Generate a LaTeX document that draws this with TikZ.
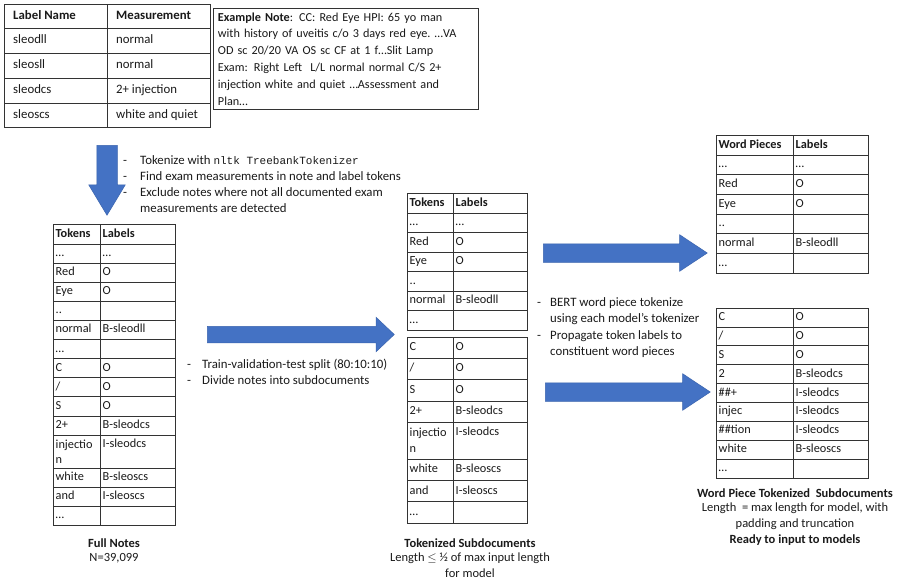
\documentclass[tikz,border=0pt]{standalone}
\usepackage{fontspec}
\setmainfont{Carlito}
\setmonofont{Liberation Mono}
\usetikzlibrary{shapes.arrows}
\definecolor{arrowblue}{HTML}{4472C4}
\definecolor{arrowedge}{HTML}{3A64AE}
\definecolor{rule}{HTML}{333333}
\definecolor{ink}{HTML}{1A1A1A}

\begin{document}
\begin{tikzpicture}[
  x=1pt,
  y=-1pt,
  grid/.style={draw=rule,line width=0.8pt},
  cell/.style={
    anchor=west,inner sep=0pt,text height=8.5pt,text depth=2.5pt,
    font=\fontsize{12.3}{14}\selectfont,text=ink
  },
  headcell/.style={cell,font=\fontsize{12.3}{14}\selectfont\bfseries},
  wrapcell/.style={
    anchor=west,inner sep=0pt,align=left,
    font=\fontsize{12.3}{15}\selectfont,text=ink
  },
  notebox/.style={
    draw=rule,line width=0.9pt,anchor=north west,align=left,
    text width=256pt,inner xsep=4.5pt,inner ysep=4pt,
    font=\fontsize{12.2}{16.8}\selectfont,text=ink
  },
  bullet/.style={
    anchor=west,inner sep=0pt,text height=8.5pt,text depth=2.5pt,
    font=\fontsize{12.8}{15}\selectfont,text=ink
  },
  caption/.style={inner sep=0pt,font=\fontsize{12.5}{14}\selectfont,text=ink},
  captionhead/.style={caption,font=\fontsize{12.5}{14}\selectfont\bfseries},
  blockarrow/.style={
    single arrow,anchor=tail,fill=arrowblue,draw=arrowedge,
    line width=0.5pt,inner sep=0pt,minimum width=0pt
  }
]
  \fill[white] (0,0) rectangle (899,581);
  \useasboundingbox (0,0) rectangle (899,581);

  % label name / measurement table
  \draw[grid] (4,4) rectangle (210,127);
  \draw[grid] (107,4) -- (107,127);
  \foreach \y in {28,53,78,103} \draw[grid] (4,\y) -- (210,\y);
  \node[headcell,font=\fontsize{12.8}{14}\selectfont\bfseries] (lm-name) at (13,16) {Label Name};
  \node[headcell,font=\fontsize{12.8}{14}\selectfont\bfseries] (lm-meas) at (116,16) {Measurement};
  \foreach \y/\tok/\lab [count=\i] in {40.5/sleodll/normal,65.5/sleosll/normal,
      90.5/sleodcs/2+ injection,115/sleoscs/white and quiet} {
    \node[cell,font=\fontsize{12.8}{14}\selectfont] (lm-tok-\i) at (13,\y) {\tok};
    \node[cell,font=\fontsize{12.8}{14}\selectfont] (lm-lab-\i) at (116,\y) {\lab};
  }

  % example note
  \node[notebox] (note) at (213,8) {\textbf{Example Note}: CC: Red Eye HPI: 65 yo man\\
    with history of uveitis c/o 3 days red eye.\ …VA\\
    OD sc 20/20 VA OS sc CF at 1 f…Slit Lamp\\
    Exam: Right Left\ \ L/L normal normal C/S 2+\\
    injection white and quiet …Assessment and\\
    Plan…};

  % step 1
  \node[blockarrow,rotate=-90,minimum height=70pt,inner ysep=10pt,
    single arrow head extend=8pt,single arrow tip angle=62] (arrow-down) at (107,145) {};
  \node[bullet] (tk-d1) at (123,161) {-};
  \node[bullet] (tk-l1) at (140,161) {Tokenize with \texttt{\fontsize{11}{13}\selectfont nltk TreebankTokenizer}};
  \node[bullet] (tk-d2) at (123,177) {-};
  \node[bullet] (tk-l2) at (140,177) {Find exam measurements in note and label tokens};
  \node[bullet] (tk-d3) at (123,193) {-};
  \node[bullet] (tk-l3) at (140,193) {Exclude notes where not all documented exam};
  \node[bullet] (tk-l4) at (140,209) {measurements are detected};

  % full notes table
  \draw[grid] (53,224) rectangle (175,525.3);
  \draw[grid] (100,224) -- (100,525.3);
  \foreach \y in {244,263.1,282.2,301.3,320.4,339.5,358.6,377.7,396.8,415.9,435,468,487.1,506.2}
    \draw[grid] (53,\y) -- (175,\y);
  \node[headcell] (fn-head-tok) at (55.5,234) {Tokens};
  \node[headcell] (fn-head-lab) at (102.5,234) {Labels};
  \foreach \y/\tok/\lab [count=\i] in {253.55/…/…,272.65/Red/O,291.75/Eye/O,310.85/../,
      329.95/normal/B-sleodll,349.05/…/,368.15/C/O,387.25/{/}/O,406.35/S/O,
      425.45/2+/B-sleodcs,477.55/white/B-sleoscs,496.65/and/I-sleoscs,515.75/…/} {
    \node[cell] (fn-tok-\i) at (55.5,\y) {\tok};
    \node[cell] (fn-lab-\i) at (102.5,\y) {\lab};
  }
  \node[wrapcell] (fn-tok-inj) at (55.5,451.5) {injectio\\n};
  \node[cell] (fn-lab-inj) at (102.5,444.5) {I-sleodcs};
  \node[captionhead] (fn-title) at (114,543) {Full Notes};
  \node[caption] (fn-count) at (114,558) {N=39,099};

  % step 2
  \node[blockarrow,minimum height=187pt,inner ysep=8pt,
    single arrow head extend=9pt,single arrow tip angle=87] (arrow-split) at (207,334.5) {};
  \node[bullet] (sp-d1) at (187,365) {-};
  \node[bullet] (sp-l1) at (202,365) {Train-validation-test split (80:10:10)};
  \node[bullet] (sp-d2) at (187,381) {-};
  \node[bullet] (sp-l2) at (202,381) {Divide notes into subdocuments};

  % tokenized subdocuments
  \draw[grid] (407,193) rectangle (527,330);
  \draw[grid] (453,193) -- (453,330);
  \foreach \y in {213,232.5,252,271.5,291,310.5} \draw[grid] (407,\y) -- (527,\y);
  \node[headcell] (ts-head-tok) at (409.5,203) {Tokens};
  \node[headcell] (ts-head-lab) at (455.5,203) {Labels};
  \foreach \y/\tok/\lab [count=\i] in {222.75/…/…,242.25/Red/O,261.75/Eye/O,281.25/../,
      300.75/normal/B-sleodll,320.25/…/} {
    \node[cell] (ts-tok-\i) at (409.5,\y) {\tok};
    \node[cell] (ts-lab-\i) at (455.5,\y) {\lab};
  }
  \draw[grid] (407,337) rectangle (527,523.1);
  \draw[grid] (453,337) -- (453,523.1);
  \foreach \y in {358.3,379.6,400.9,422.2,459.2,480.5,501.8} \draw[grid] (407,\y) -- (527,\y);
  \foreach \y/\tok/\lab [count=\i] in {347.65/C/O,368.95/{/}/O,390.25/S/O,411.55/2+/B-sleodcs,
      469.85/white/B-sleoscs,491.15/and/I-sleoscs,512.45/…/} {
    \node[cell] (ts-sub-tok-\i) at (409.5,\y) {\tok};
    \node[cell] (ts-sub-lab-\i) at (455.5,\y) {\lab};
  }
  \node[wrapcell,font=\fontsize{12.3}{16}\selectfont] (ts-tok-inj) at (409.5,440.7) {injectio\\n};
  \node[cell] (ts-lab-inj) at (455.5,432) {I-sleodcs};
  \node[captionhead] (ts-title) at (470,543) {Tokenized Subdocuments};
  \node[caption] (ts-len) at (470,558) {Length \(\le\) ½ of max input length};
  \node[caption] (ts-model) at (470,573) {for model};

  % step 3
  \node[blockarrow,minimum height=164pt,inner ysep=9pt,
    single arrow head extend=9pt,single arrow tip angle=67] (arrow-wp-a) at (543,253) {};
  \node[blockarrow,minimum height=165pt,inner ysep=9pt,
    single arrow head extend=9pt,single arrow tip angle=67] (arrow-wp-b) at (545,392) {};
  \node[bullet] (wp-d1) at (537,303) {-};
  \node[bullet] (wp-l1) at (550,303) {BERT word piece tokenize};
  \node[bullet] (wp-l2) at (550,319) {using each model’s tokenizer};
  \node[bullet] (wp-d2) at (537,336) {-};
  \node[bullet] (wp-l3) at (550,336) {Propagate token labels to};
  \node[bullet] (wp-l4) at (550,352) {constituent word pieces};

  % word piece tables
  \draw[grid] (716,135) rectangle (868,273);
  \draw[grid] (793,135) -- (793,273);
  \foreach \y in {155,174.7,194.3,214,233.7,253.3} \draw[grid] (716,\y) -- (868,\y);
  \node[headcell] (wp-head-tok) at (718.5,145) {Word Pieces};
  \node[headcell] (wp-head-lab) at (795.5,145) {Labels};
  \foreach \y/\tok/\lab [count=\i] in {164.85/…/…,184.5/Red/O,204.15/Eye/O,223.85/../,
      243.5/normal/B-sleodll,263.15/…/} {
    \node[cell] (wp-tok-\i) at (718.5,\y) {\tok};
    \node[cell] (wp-lab-\i) at (795.5,\y) {\lab};
  }
  \draw[grid] (716,308) rectangle (868,478.1);
  \draw[grid] (793,308) -- (793,478.1);
  \foreach \y in {326.9,345.8,364.7,383.6,402.5,421.4,440.3,459.2} \draw[grid] (716,\y) -- (868,\y);
  \foreach \y/\tok/\lab [count=\i] in {317.45/C/O,336.35/{/}/O,355.25/S/O,374.15/2/B-sleodcs,
      393.05/\#\#+/I-sleodcs,411.95/injec/I-sleodcs,430.85/\#\#tion/I-sleodcs,
      449.75/white/B-sleoscs,468.65/…/} {
    \node[cell] (wp-sub-tok-\i) at (718.5,\y) {\tok};
    \node[cell] (wp-sub-lab-\i) at (795.5,\y) {\lab};
  }
  \node[captionhead] (wp-title) at (795,493) {Word Piece Tokenized\ \ Subdocuments};
  \node[caption] (wp-len) at (795,508) {Length\ \ = max length for model, with};
  \node[caption] (wp-pad) at (795,524) {padding and truncation};
  \node[captionhead] (wp-ready) at (795,540) {Ready to input to models};
\end{tikzpicture}
\end{document}
